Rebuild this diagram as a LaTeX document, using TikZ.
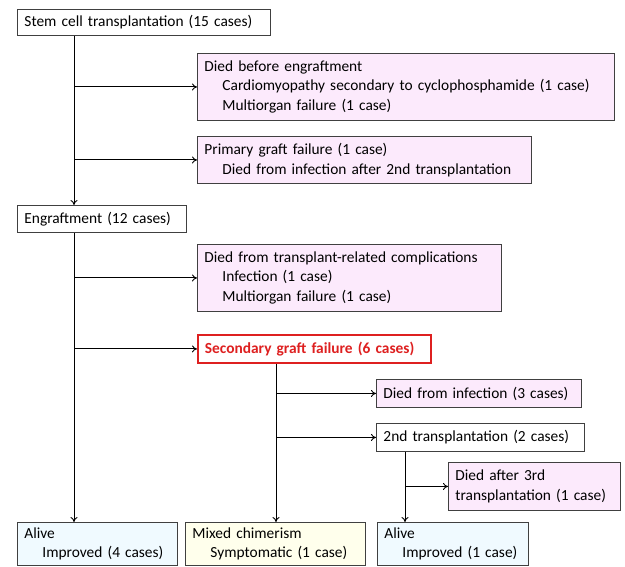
\documentclass[tikz,border=0pt]{standalone}
\usepackage{fontspec}
\setmainfont{Carlito}
\usetikzlibrary{arrows.meta}
\definecolor{pinkf}{RGB}{252,234,252}
\definecolor{cyanf}{RGB}{240,250,255}
\definecolor{yelf}{RGB}{255,255,236}
\definecolor{bord}{RGB}{64,64,64}
\definecolor{redb}{RGB}{222,32,32}
\newcommand{\ind}{\hspace*{18pt}}
\begin{document}
\begin{tikzpicture}[x=1pt,y=-1pt,
  box/.style={draw=bord,line width=0.9pt,anchor=north west,align=left,inner xsep=7pt,inner ysep=0pt,
    font=\fontsize{15.4}{19.8}\selectfont},
  arr/.style={draw=black,line width=0.9pt,-{To[length=5pt,width=7pt]}},
  ln/.style={draw=black,line width=0.9pt}]
\useasboundingbox (0,0) rectangle (625,567);
\clip (0,0) rectangle (625,567);
\fill[white] (0,0) rectangle (625,567);
% nodes
\node[box,fill=white,text width=239pt,minimum height=26pt] (stem) at (17,9) {Stem cell transplantation (15 cases)};
\node[box,fill=pinkf,text width=403pt,minimum height=67pt] (died1) at (197,53) {Died before engraftment\\\ind Cardiomyopathy secondary to cyclophosphamide (1 case)\\\ind Multiorgan failure (1 case)};
\node[box,fill=pinkf,text width=320pt,minimum height=47pt] (pgf) at (197,136) {Primary graft failure (1 case)\\\ind Died from infection after 2nd transplantation};
\node[box,fill=white,text width=155pt,minimum height=27pt] (engraft) at (17,205) {Engraftment (12 cases)};
\node[box,fill=pinkf,text width=290pt,minimum height=67pt] (trc) at (197,244) {Died from transplant-related complications\\\ind Infection (1 case)\\\ind Multiorgan failure (1 case)};
\node[box,draw=redb,line width=1.8pt,fill=white,text width=219pt,minimum height=28pt,text=redb,font=\fontsize{15.4}{19.8}\selectfont\bfseries] (sgf) at (197,334) {Secondary graft failure (6 cases)};
\node[box,fill=pinkf,text width=191pt,minimum height=28pt] (dfi) at (376,379) {Died from infection (3 cases)};
\node[box,fill=white,text width=194pt,minimum height=28pt] (tr2) at (376,423) {2nd transplantation (2 cases)};
\node[box,fill=pinkf,text width=158pt,minimum height=48pt] (d3) at (448,462) {Died after 3rd\\transplantation (1 case)};
\node[box,fill=cyanf,text width=146pt,inner ysep=5pt] (alive1) at (17,522) {Alive\\\ind Improved (4 cases)};
\node[box,fill=yelf,text width=166pt,inner ysep=5pt] (mixed) at (185,522) {Mixed chimerism\\\ind Symptomatic (1 case)};
\node[box,fill=cyanf,text width=137pt,inner ysep=5pt] (alive2) at (377,522) {Alive\\\ind Improved (1 case)};
% guide coordinates
\coordinate (L1) at (74,0);
\coordinate (L2) at (276,0);
\coordinate (L3) at (405,0);
% connectors
\draw[arr] (stem.south -| L1) -- (engraft.north -| L1);
\draw[arr] (died1.west -| L1) -- (died1.west);
\draw[arr] (pgf.west -| L1) -- (pgf.west);
\draw[arr] (engraft.south -| L1) -- (alive1.north -| L1);
\draw[arr] (trc.west -| L1) -- (trc.west);
\draw[arr] (sgf.west -| L1) -- (sgf.west);
\draw[arr] (sgf.south -| L2) -- (mixed.north -| L2);
\draw[arr] (dfi.west -| L2) -- (dfi.west);
\draw[arr] (tr2.west -| L2) -- (tr2.west);
\draw[arr] (tr2.south -| L3) -- (alive2.north -| L3);
\draw[arr] (d3.west -| L3) -- (d3.west);
\end{tikzpicture}
\end{document}
